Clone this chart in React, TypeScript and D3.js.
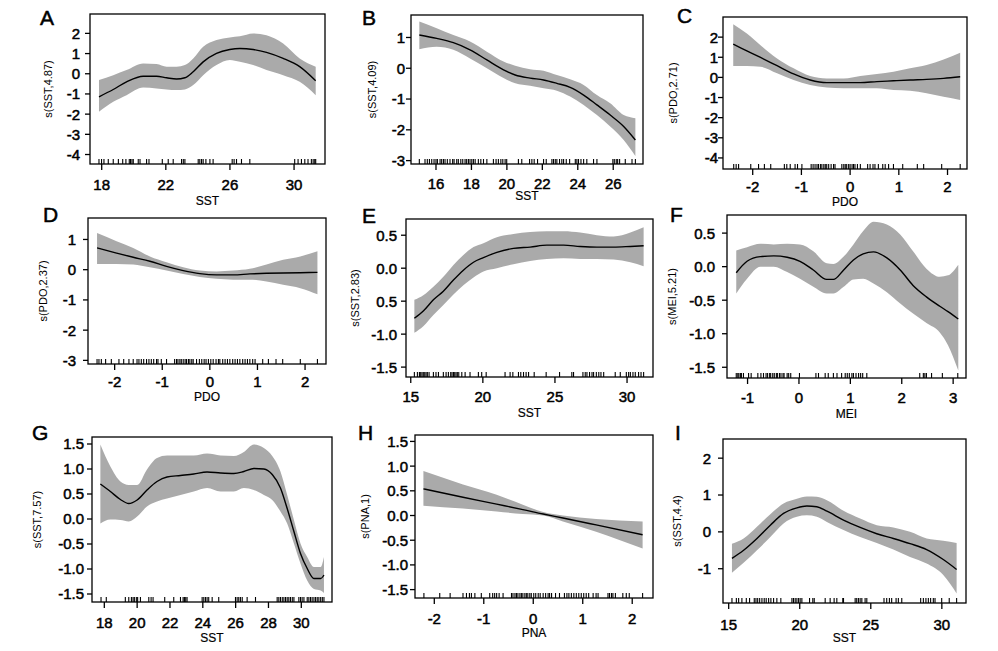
import React from "react";
import * as d3 from "d3";

// ---------- DATA ----------
// Panel A: s(SST,4.87)
const aX = [17.83, 18.72, 19.55, 20.59, 21.42, 22.05, 22.67, 23.19, 23.71, 24.33, 25.16, 25.99, 26.62, 27.45, 28.28, 29.32, 30.35, 31.35];
const aFit = [-1.14, -0.78, -0.4, -0.12, -0.12, -0.2, -0.26, -0.2, 0.1, 0.59, 1.01, 1.2, 1.25, 1.2, 1.06, 0.76, 0.35, -0.35];
const aUpper = [-0.31, -0.07, 0.18, 0.51, 0.48, 0.35, 0.35, 0.43, 0.76, 1.34, 1.67, 1.8, 1.86, 2.0, 1.91, 1.5, 0.76, 0.35];
const aLower = [-1.88, -1.39, -1.06, -0.68, -0.73, -0.78, -0.81, -0.78, -0.56, -0.07, 0.43, 0.68, 0.59, 0.43, 0.18, -0.07, -0.4, -1.06];
const aRug = [17.83, 17.99, 18.14, 18.41, 18.72, 19.04, 19.31, 19.51, 19.72, 19.8, 19.89, 19.97, 20.28, 20.39, 20.8, 20.95, 21.78, 22.15, 22.46, 22.98, 23.09, 23.19, 24.02, 24.12, 24.23, 24.33, 24.5, 24.75, 24.95, 26.14, 26.26, 26.41, 26.72, 27.24, 30.04, 30.25, 30.46, 30.67, 30.87, 31.08, 31.19, 31.29, 31.35];
const aXTicks = [18, 22, 26, 30];
const aYTicks = [-4, -3, -2, -1, 0, 1, 2];

// Panel B: s(SST,4.09)
const bX = [15.06, 16.04, 16.98, 17.92, 18.87, 19.81, 20.47, 21.31, 22.07, 22.82, 23.57, 24.33, 25.08, 25.83, 26.59, 27.25];
const bFit = [1.08, 0.97, 0.83, 0.6, 0.27, -0.05, -0.22, -0.32, -0.38, -0.49, -0.62, -0.87, -1.19, -1.52, -1.89, -2.33];
const bUpper = [1.52, 1.3, 1.08, 0.87, 0.54, 0.22, 0.08, -0.03, -0.08, -0.22, -0.36, -0.54, -0.87, -1.14, -1.52, -1.62];
const bLower = [0.62, 0.7, 0.6, 0.32, 0.0, -0.32, -0.49, -0.57, -0.65, -0.73, -0.92, -1.19, -1.52, -1.89, -2.33, -2.85];
const bRug = [15.06, 15.38, 15.51, 15.63, 15.76, 15.89, 16.0, 16.08, 16.23, 16.32, 16.42, 16.51, 16.64, 16.79, 16.94, 17.02, 17.17, 17.26, 17.4, 17.51, 17.64, 17.73, 17.83, 17.92, 18.02, 18.11, 18.21, 18.39, 18.53, 18.68, 18.87, 19.24, 19.39, 19.52, 19.66, 19.77, 19.9, 19.99, 20.65, 20.84, 21.28, 21.41, 21.54, 21.73, 22.07, 22.22, 22.54, 22.63, 22.73, 22.82, 22.97, 23.1, 23.2, 23.35, 23.54, 23.86, 23.95, 24.04, 24.18, 24.33, 24.51, 24.89, 25.08, 25.98, 26.06, 26.17, 26.25, 26.36, 26.68, 27.06, 27.25];
const bXTicks = [16, 18, 20, 22, 24, 26];
const bYTicks = [-3, -2, -1, 0, 1];

// Panel C: s(PDO,2.71)
const cX = [-2.4, -2.12, -1.84, -1.5, -1.16, -0.82, -0.48, -0.13, 0.21, 0.55, 0.89, 1.23, 1.57, 1.92, 2.26];
const cFit = [1.65, 1.32, 0.99, 0.58, 0.17, -0.13, -0.26, -0.26, -0.26, -0.21, -0.17, -0.13, -0.1, -0.05, 0.03];
const cUpper = [2.64, 2.18, 1.6, 0.94, 0.45, 0.07, -0.05, -0.05, 0.07, 0.17, 0.28, 0.45, 0.61, 0.89, 1.22];
const cLower = [0.56, 0.56, 0.53, 0.2, -0.13, -0.38, -0.5, -0.54, -0.54, -0.54, -0.63, -0.66, -0.79, -0.96, -1.12];
const cRug = [-2.39, -2.34, -2.29, -2.04, -1.88, -1.76, -1.63, -1.35, -1.3, -1.23, -1.13, -1.08, -0.99, -0.8, -0.76, -0.72, -0.68, -0.65, -0.61, -0.58, -0.54, -0.51, -0.48, -0.44, -0.39, -0.34, -0.31, -0.17, -0.13, -0.1, -0.07, -0.03, 0.0, 0.04, 0.07, 0.1, 0.15, 0.21, 0.36, 0.41, 0.47, 0.51, 0.58, 0.67, 0.72, 0.79, 0.89, 1.08, 1.38, 1.51, 1.88, 2.26];
const cXTicks = [-2, -1, 0, 1, 2];
const cYTicks = [-4, -3, -2, -1, 0, 1, 2];

// Panel D: s(PDO,2.37)
const dX = [-2.37, -1.96, -1.61, -1.26, -0.91, -0.56, -0.21, 0.14, 0.49, 0.84, 1.19, 1.54, 1.9, 2.26];
const dFit = [0.72, 0.55, 0.41, 0.28, 0.11, -0.03, -0.13, -0.17, -0.17, -0.14, -0.12, -0.11, -0.1, -0.09];
const dUpper = [1.21, 0.94, 0.72, 0.44, 0.25, 0.08, -0.03, -0.06, -0.03, 0.03, 0.17, 0.33, 0.44, 0.61];
const dLower = [0.19, 0.19, 0.17, 0.08, -0.03, -0.14, -0.24, -0.3, -0.33, -0.33, -0.39, -0.5, -0.61, -0.81];
const dRug = [-2.37, -2.33, -2.28, -2.19, -2.07, -1.91, -1.81, -1.7, -1.61, -1.53, -1.49, -1.44, -1.39, -1.33, -1.28, -1.23, -1.18, -1.12, -1.09, -1.02, -0.91, -0.74, -0.7, -0.67, -0.63, -0.6, -0.56, -0.52, -0.49, -0.45, -0.42, -0.38, -0.35, -0.28, -0.22, -0.17, -0.12, -0.08, -0.03, 0.02, 0.07, 0.13, 0.18, 0.21, 0.27, 0.32, 0.37, 0.42, 0.48, 0.53, 0.58, 0.63, 0.69, 0.74, 0.79, 0.84, 0.9, 0.95, 1.11, 1.23, 1.39, 1.53, 1.9, 2.26];
const dXTicks = [-2, -1, 0, 1, 2];
const dYTicks = [-3, -2, -1, 0, 1];

// Panel E: s(SST,2.83)
const eX = [15.25, 15.87, 16.57, 17.26, 17.96, 18.65, 19.35, 20.04, 20.97, 22.12, 23.28, 24.44, 25.6, 26.75, 27.91, 29.07, 30.23, 31.15];
const eFit = [-0.76, -0.65, -0.48, -0.35, -0.18, -0.03, 0.09, 0.16, 0.24, 0.3, 0.32, 0.35, 0.35, 0.33, 0.32, 0.32, 0.33, 0.34];
const eUpper = [-0.48, -0.41, -0.28, -0.13, 0.05, 0.2, 0.32, 0.38, 0.47, 0.52, 0.55, 0.56, 0.56, 0.54, 0.5, 0.48, 0.54, 0.62];
const eLower = [-0.98, -0.88, -0.71, -0.56, -0.4, -0.26, -0.14, -0.05, 0.0, 0.06, 0.11, 0.14, 0.15, 0.14, 0.14, 0.13, 0.09, 0.03];
const eRug = [15.25, 15.46, 15.6, 15.69, 15.78, 15.87, 15.97, 16.06, 16.15, 16.27, 16.57, 16.75, 16.92, 17.26, 17.45, 17.61, 17.77, 17.86, 17.96, 18.05, 18.14, 18.23, 18.33, 18.54, 18.77, 19.11, 19.69, 19.92, 20.23, 21.54, 21.89, 22.08, 22.47, 22.63, 22.82, 23.0, 23.17, 23.56, 24.39, 25.32, 26.17, 26.29, 26.94, 27.1, 27.22, 27.4, 27.57, 27.68, 27.87, 28.04, 28.19, 28.38, 29.18, 29.53, 29.95, 30.11, 30.23, 30.41, 30.57, 30.8, 30.97, 31.15];
const eXTicks = [15, 20, 25, 30];
const eYTicks = [-1.5, -1.0, -0.5, 0.0, 0.5];
const eYTickLabels = ["-1.5", "-1.0", "0.5", "0.0", "0.5"];

// Panel F: s(MEI,5.21)
const fX = [-1.22, -1.01, -0.75, -0.49, -0.23, 0.02, 0.28, 0.54, 0.67, 0.87, 1.06, 1.25, 1.45, 1.71, 1.97, 2.22, 2.48, 2.74, 2.9, 3.1];
const fFit = [-0.09, 0.08, 0.15, 0.16, 0.14, 0.08, -0.05, -0.19, -0.19, -0.05, 0.1, 0.19, 0.22, 0.13, -0.05, -0.28, -0.45, -0.59, -0.67, -0.78];
const fUpper = [0.24, 0.29, 0.34, 0.33, 0.34, 0.33, 0.23, 0.05, 0.04, 0.15, 0.33, 0.53, 0.67, 0.63, 0.48, 0.23, -0.03, -0.15, -0.13, 0.03];
const fLower = [-0.4, -0.18, 0.0, 0.0, -0.08, -0.18, -0.3, -0.4, -0.4, -0.3, -0.19, -0.18, -0.25, -0.38, -0.55, -0.7, -0.84, -0.98, -1.17, -1.55];
const fRug = [-1.22, -1.19, -1.17, -1.14, -1.12, -1.08, -0.98, -0.93, -0.8, -0.74, -0.69, -0.64, -0.61, -0.57, -0.55, -0.51, -0.48, -0.44, -0.42, -0.38, -0.35, -0.31, -0.29, -0.23, -0.2, -0.16, 0.01, 0.33, 0.38, 0.51, 0.57, 0.67, 0.74, 0.83, 0.9, 0.94, 0.98, 1.03, 1.06, 1.11, 1.16, 1.2, 1.24, 1.32, 2.35, 2.42, 2.45, 2.48, 2.58, 2.79, 3.09];
const fXTicks = [-1, 0, 1, 2, 3];
const fYTicks = [-1.5, -1.0, -0.5, 0.0, 0.5];

// Panel G: s(SST,7.57)
const gX = [17.76, 18.37, 18.98, 19.49, 20.0, 20.6, 21.21, 21.82, 22.64, 23.45, 24.26, 25.08, 25.89, 26.5, 27.11, 27.72, 28.23, 28.73, 29.14, 29.55, 29.95, 30.36, 30.77, 31.18, 31.38];
const gFit = [0.7, 0.55, 0.39, 0.31, 0.38, 0.58, 0.75, 0.84, 0.87, 0.9, 0.94, 0.92, 0.91, 0.95, 1.01, 1.0, 0.89, 0.62, 0.21, -0.25, -0.69, -0.99, -1.19, -1.19, -1.12];
const gUpper = [1.49, 1.05, 0.75, 0.68, 0.68, 0.99, 1.22, 1.27, 1.27, 1.27, 1.31, 1.27, 1.26, 1.34, 1.49, 1.42, 1.26, 0.95, 0.48, -0.02, -0.49, -0.76, -0.96, -0.96, -0.76];
const gLower = [-0.09, -0.01, -0.02, -0.05, 0.05, 0.25, 0.35, 0.41, 0.48, 0.55, 0.62, 0.55, 0.55, 0.62, 0.58, 0.48, 0.38, 0.15, -0.09, -0.49, -0.89, -1.23, -1.4, -1.43, -1.48];
const gRug = [17.8, 18.12, 19.28, 19.49, 19.65, 19.75, 19.83, 19.95, 20.03, 20.2, 20.71, 20.85, 20.97, 21.68, 22.23, 22.64, 22.8, 22.88, 22.96, 23.04, 23.96, 24.06, 24.16, 24.26, 24.36, 24.57, 24.97, 25.99, 26.09, 26.19, 26.29, 26.4, 26.7, 27.21, 28.53, 28.63, 28.73, 28.84, 28.94, 29.04, 29.14, 29.24, 29.34, 29.45, 29.55, 29.85, 29.95, 30.05, 30.16, 30.36, 30.46, 30.56, 30.66, 30.77, 30.87, 30.97, 31.07, 31.18, 31.28, 31.38];
const gXTicks = [18, 20, 22, 24, 26, 28, 30];
const gYTicks = [-1.5, -1.0, -0.5, 0.0, 0.5, 1.0, 1.5];

// Panel H: s(PNA,1)
const hX = [-2.22, -1.42, -0.74, -0.21, 0.2, 0.6, 1.27, 2.21];
const hFit = [0.54, 0.37, 0.23, 0.12, 0.03, -0.05, -0.19, -0.39];
const hUpper = [0.9, 0.63, 0.42, 0.22, 0.07, 0.0, -0.07, -0.12];
const hLower = [0.2, 0.14, 0.08, 0.03, 0.0, -0.12, -0.33, -0.67];
const hRug = [-2.21, -1.89, -1.68, -1.42, -1.35, -1.29, -1.25, -1.18, -1.05, -0.88, -0.82, -0.78, -0.74, -0.69, -0.61, -0.44, -0.41, -0.37, -0.34, -0.31, -0.27, -0.24, -0.21, -0.17, -0.14, -0.11, -0.07, -0.04, 0.01, 0.05, 0.1, 0.14, 0.2, 0.25, 0.3, 0.33, 0.37, 0.45, 0.53, 0.63, 0.68, 0.72, 0.77, 0.82, 0.87, 0.92, 0.97, 1.02, 1.07, 1.12, 1.21, 1.27, 1.31, 1.51, 1.54, 1.58, 1.61, 1.66, 1.81, 1.88, 1.94, 2.21];
const hXTicks = [-2, -1, 0, 1, 2];
const hYTicks = [-1.5, -1.0, -0.5, 0.0, 0.5, 1.0, 1.5];

// Panel I: s(SST,4.4)
const iX = [15.23, 16.05, 16.99, 17.93, 18.86, 19.8, 20.5, 21.2, 21.91, 23.08, 24.25, 25.42, 26.59, 27.76, 28.93, 30.1, 31.04];
const iFit = [-0.72, -0.5, -0.18, 0.18, 0.5, 0.65, 0.7, 0.68, 0.56, 0.32, 0.12, -0.05, -0.18, -0.32, -0.48, -0.75, -1.02];
const iUpper = [-0.32, -0.18, 0.14, 0.48, 0.77, 0.9, 0.96, 0.95, 0.86, 0.57, 0.36, 0.18, 0.12, 0.0, -0.18, -0.24, -0.3];
const iLower = [-1.11, -0.84, -0.5, -0.14, 0.23, 0.41, 0.45, 0.41, 0.27, 0.05, -0.14, -0.3, -0.48, -0.68, -0.86, -1.17, -1.67];
const iRug = [15.23, 15.54, 15.7, 15.93, 16.24, 16.47, 16.8, 16.92, 17.04, 17.18, 17.34, 17.5, 17.64, 17.81, 17.97, 18.16, 18.39, 18.67, 19.45, 19.56, 19.68, 19.8, 19.92, 20.03, 20.15, 20.69, 20.92, 21.02, 21.79, 22.14, 22.42, 22.61, 23.03, 23.08, 23.9, 24.01, 24.13, 24.25, 24.37, 24.6, 24.72, 25.93, 26.12, 26.31, 26.47, 26.78, 26.94, 27.18, 28.51, 28.7, 28.88, 29.05, 29.21, 29.4, 29.52, 29.99, 30.52, 31.04];
const iXTicks = [15, 20, 25, 30];
const iYTicks = [-1, 0, 1, 2];

// ---------- LAYOUT (positions / domains) ----------
type Panel = {
  letter: string; ylab: string; xlab: string;
  xs: number[]; fit: number[]; upper: number[]; lower: number[]; rug: number[];
  xTicks: number[]; yTicks: number[]; yTickLabels?: string[]; yFmt: (v: number) => string;
  box: [number, number, number, number]; xDom: [number, number]; yDom: [number, number];
  letterPos: [number, number]; ylabX: number; yGap: number; tickBase: number; titleBase: number;
};

const intFmt = (v: number) => d3.format("d")(v).replace("−", "-");
const decFmt = (v: number) => d3.format(".1f")(v).replace("−", "-");

const panels: Panel[] = [
  { letter: "A", ylab: "s(SST,4.87)", xlab: "SST", xs: aX, fit: aFit, upper: aUpper, lower: aLower, rug: aRug, xTicks: aXTicks, yTicks: aYTicks, yFmt: intFmt,
    box: [90, 14, 325, 164], xDom: [17.27, 31.93], yDom: [-4.47, 2.96], letterPos: [40, 25], ylabX: 52, yGap: 10, tickBase: 190, titleBase: 205 },
  { letter: "B", ylab: "s(SST,4.09)", xlab: "SST", xs: bX, fit: bFit, upper: bUpper, lower: bLower, rug: bRug, xTicks: bXTicks, yTicks: bYTicks, yFmt: intFmt,
    box: [411, 15, 643, 164], xDom: [14.59, 27.68], yDom: [-3.11, 1.73], letterPos: [362, 25], ylabX: 376, yGap: 6, tickBase: 189, titleBase: 200 },
  { letter: "C", ylab: "s(PDO,2.71)", xlab: "PDO", xs: cX, fit: cFit, upper: cUpper, lower: cLower, rug: cRug, xTicks: cXTicks, yTicks: cYTicks, yFmt: intFmt,
    box: [723, 17, 967, 169], xDom: [-2.61, 2.4], yDom: [-4.55, 3.0], letterPos: [677, 23], ylabX: 677, yGap: 5, tickBase: 192, titleBase: 206 },
  { letter: "D", ylab: "s(PDO,2.37)", xlab: "PDO", xs: dX, fit: dFit, upper: dUpper, lower: dLower, rug: dRug, xTicks: dXTicks, yTicks: dYTicks, yFmt: intFmt,
    box: [88, 218, 326, 364], xDom: [-2.56, 2.44], yDom: [-3.12, 1.71], letterPos: [43, 222], ylabX: 47, yGap: 12, tickBase: 387, titleBase: 401 },
  { letter: "E", ylab: "s(SST,2.83)", xlab: "SST", xs: eX, fit: eFit, upper: eUpper, lower: eLower, rug: eRug, xTicks: eXTicks, yTicks: eYTicks, yTickLabels: eYTickLabels, yFmt: decFmt,
    box: [406, 219, 653, 377], xDom: [14.67, 31.8], yDom: [-1.65, 0.746], letterPos: [362, 223], ylabX: 359, yGap: 9, tickBase: 402, titleBase: 417 },
  { letter: "F", ylab: "s(MEI,5.21)", xlab: "MEI", xs: fX, fit: fFit, upper: fUpper, lower: fLower, rug: fRug, xTicks: fXTicks, yTicks: fYTicks, yFmt: decFmt,
    box: [727, 215, 966, 378], xDom: [-1.4, 3.25], yDom: [-1.66, 0.77], letterPos: [670, 222], ylabX: 676, yGap: 12, tickBase: 403, titleBase: 418 },
  { letter: "G", ylab: "s(SST,7.57)", xlab: "SST", xs: gX, fit: gFit, upper: gUpper, lower: gLower, rug: gRug, xTicks: gXTicks, yTicks: gYTicks, yFmt: decFmt,
    box: [92, 437, 332, 602], xDom: [17.25, 31.87], yDom: [-1.66, 1.64], letterPos: [32, 440], ylabX: 41, yGap: 8, tickBase: 628, titleBase: 642 },
  { letter: "H", ylab: "s(PNA,1)", xlab: "PNA", xs: hX, fit: hFit, upper: hUpper, lower: hLower, rug: hRug, xTicks: hXTicks, yTicks: hYTicks, yFmt: decFmt,
    box: [415, 435, 653, 598], xDom: [-2.39, 2.42], yDom: [-1.67, 1.63], letterPos: [358, 440], ylabX: 369, yGap: 7, tickBase: 624, titleBase: 637 },
  { letter: "I", ylab: "s(SST,4.4)", xlab: "SST", xs: iX, fit: iFit, upper: iUpper, lower: iLower, rug: iRug, xTicks: iXTicks, yTicks: iYTicks, yFmt: intFmt,
    box: [723, 439, 966, 603], xDom: [14.6, 31.7], yDom: [-1.93, 2.52], letterPos: [675, 440], ylabX: 681, yGap: 12, tickBase: 630, titleBase: 642 },
];

const FONT = "'Liberation Sans', Arial, Helvetica, sans-serif";
const BAND = "#aaaaaa";

function PanelView({ p }: { p: Panel }) {
  const [x0, y0, x1, y1] = p.box;
  const x = d3.scaleLinear().domain(p.xDom).range([x0, x1]);
  const y = d3.scaleLinear().domain(p.yDom).range([y1, y0]);
  const idx = p.xs.map((_, i) => i);
  const area = d3.area<number>()
    .x((i) => x(p.xs[i]))
    .y0((i) => y(p.lower[i]))
    .y1((i) => y(p.upper[i]))
    .curve(d3.curveMonotoneX);
  const line = d3.line<number>()
    .x((i) => x(p.xs[i]))
    .y((i) => y(p.fit[i]))
    .curve(d3.curveMonotoneX);
  const cy = (y0 + y1) / 2;
  const heavy = { stroke: "#000", strokeWidth: 0.5 } as const;
  return (
    <g>
      <path d={area(idx) || ""} fill={BAND} stroke="none" />
      <path d={line(idx) || ""} fill="none" stroke="#000" strokeWidth={1.4} />
      {p.rug.map((r, i) => (
        <line key={"r" + i} x1={x(r)} x2={x(r)} y1={y1} y2={y1 - 5} stroke="#000" strokeWidth={1.1} />
      ))}
      <rect x={x0} y={y0} width={x1 - x0} height={y1 - y0} fill="none" stroke="#000" strokeWidth={1.3} />
      {p.xTicks.map((t) => (
        <g key={"xt" + t}>
          <line x1={x(t)} x2={x(t)} y1={y1} y2={y1 + 6} stroke="#000" strokeWidth={1.3} />
          <text x={x(t)} y={p.tickBase} textAnchor="middle" fontSize={15} fontFamily={FONT} fill="#000" {...heavy}>
            {intFmt(t)}
          </text>
        </g>
      ))}
      {p.yTicks.map((t, i) => (
        <g key={"yt" + t}>
          <line x1={x0 - 5} x2={x0} y1={y(t)} y2={y(t)} stroke="#000" strokeWidth={1.3} />
          <text x={x0 - p.yGap} y={y(t)} dy="0.36em" textAnchor="end" fontSize={15} fontFamily={FONT} fill="#000" {...heavy}>
            {p.yTickLabels ? p.yTickLabels[i] : p.yFmt(t)}
          </text>
        </g>
      ))}
      <text x={(x0 + x1) / 2} y={p.titleBase} textAnchor="middle" fontSize={12} fontFamily={FONT} fill="#000" stroke="#000" strokeWidth={0.2}>
        {p.xlab}
      </text>
      <text transform={`translate(${p.ylabX},${cy}) rotate(-90)`} textAnchor="middle" fontSize={11} fontFamily={FONT} fill="#000">
        {p.ylab}
      </text>
      <text x={p.letterPos[0]} y={p.letterPos[1]} fontSize={21} fontFamily={FONT} fill="#000" {...heavy}>
        {p.letter}
      </text>
    </g>
  );
}

export default function App() {
  return (
    <svg width={998} height={651} style={{ position: "absolute", left: 0, top: 0, background: "#fff" }}>
      <rect x={0} y={0} width={998} height={651} fill="#fff" />
      {panels.map((p) => (
        <PanelView key={p.letter} p={p} />
      ))}
    </svg>
  );
}
